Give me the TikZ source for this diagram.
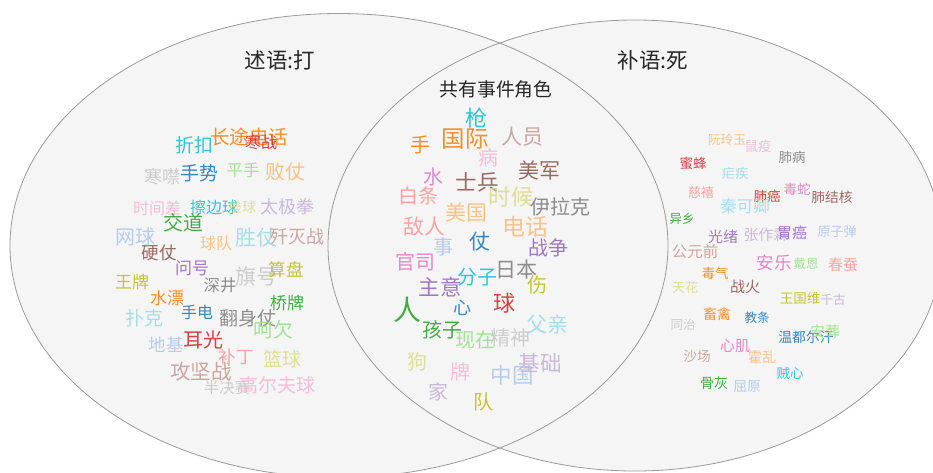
\documentclass[tikz,border=0pt]{standalone}
\usepackage{fontspec}
\setmainfont{Noto Sans CJK SC}
\definecolor{tb}{HTML}{1F77B4}
\definecolor{tlb}{HTML}{AEC7E8}
\definecolor{to}{HTML}{FF7F0E}
\definecolor{tlo}{HTML}{FFBB78}
\definecolor{tg}{HTML}{2CA02C}
\definecolor{tlg}{HTML}{98DF8A}
\definecolor{tr}{HTML}{D62728}
\definecolor{tlr}{HTML}{FF9896}
\definecolor{tp}{HTML}{9467BD}
\definecolor{tlp}{HTML}{C5B0D5}
\definecolor{tbr}{HTML}{8C564B}
\definecolor{tlbr}{HTML}{C49C94}
\definecolor{tpk}{HTML}{E377C2}
\definecolor{tlpk}{HTML}{F7B6D2}
\definecolor{tgr}{HTML}{7F7F7F}
\definecolor{tlgr}{HTML}{C7C7C7}
\definecolor{tol}{HTML}{BCBD22}
\definecolor{tlol}{HTML}{DBDB8D}
\definecolor{tc}{HTML}{17BECF}
\definecolor{tlc}{HTML}{9EDAE5}
\definecolor{setfill}{HTML}{F5F5F5}
\definecolor{setline}{HTML}{9A9A9A}
\newcounter{wcnt}
\newcommand\wrd[5]{\stepcounter{wcnt}\node[word, text=#4, font=\fontsize{#3pt}{#3pt}\selectfont] (w\arabic{wcnt}) at (#1,#2) {#5};}
\begin{document}
\begin{tikzpicture}[x=1pt,y=-1pt,
  word/.style={inner sep=0pt, text opacity=0.88},
  title/.style={inner sep=0pt, text=black!85, font=\fontsize{21.5pt}{21.5pt}\selectfont},
  subtitle/.style={inner sep=0pt, text=black!85, font=\fontsize{18.8pt}{18.8pt}\selectfont},
  setfillst/.style={fill=setfill, draw=none},
  setedge/.style={draw=setline, line width=0.8pt}]
\useasboundingbox (0,0) rectangle (933,472);
\begin{scope}
\clip (0,0) rectangle (933,472);
\fill[setfillst] (339,245.5) ellipse [x radius=329, y radius=232];
\fill[setfillst] (635,245.5) ellipse [x radius=307, y radius=225.5];
\draw[setedge] (339,245.5) ellipse [x radius=329, y radius=232];
\draw[setedge] (635,245.5) ellipse [x radius=307, y radius=225.5];
\end{scope}
\node[title] (tl) at (280,60) {述语:打};
\node[title] (tr) at (653,60) {补语:死};
\node[subtitle] (tm) at (496,89) {共有事件角色};
% left
\wrd{194}{145}{19}{tc}{折扣}
\wrd{249}{137}{19.5}{to}{长途电话}
\wrd{261}{142}{16}{tr}{寒战}
\wrd{162}{177}{18}{tlgr}{寒噤}
\wrd{199}{173}{19}{tb}{手势}
\wrd{243}{170}{16.5}{tlg}{平手}
\wrd{285}{172}{20}{tlo}{败仗}
\wrd{157}{208}{16}{tlpk}{时间差}
\wrd{214}{207}{16}{tc}{擦边球}
\wrd{242}{207}{14}{tlol}{垒球}
\wrd{287}{207}{18}{tlp}{太极拳}
\wrd{183}{223}{20}{tg}{交道}
\wrd{135}{237}{20}{tlb}{网球}
\wrd{216}{243}{16}{tlo}{球队}
\wrd{256}{238}{21}{tlc}{胜仗}
\wrd{297}{237}{18}{tlbr}{歼灭战}
\wrd{159}{253}{17.5}{tbr}{硬仗}
\wrd{192}{268}{17}{tp}{问号}
\wrd{132}{282}{17}{tol}{王牌}
\wrd{220}{285}{16.5}{tgr}{深井}
\wrd{256}{277}{21}{tlgr}{旗号}
\wrd{286}{270}{17.5}{tol}{算盘}
\wrd{167}{298}{17}{to}{水漂}
\wrd{287}{303}{17}{tg}{桥牌}
\wrd{144}{318}{19}{tlc}{扑克}
\wrd{197}{312}{16}{tb}{手电}
\wrd{248}{318}{19}{tgr}{翻身仗}
\wrd{273}{330}{20}{tlg}{呵欠}
\wrd{166}{345}{17.5}{tlb}{地基}
\wrd{203}{340}{20}{tr}{耳光}
\wrd{236}{357}{17.5}{tlr}{补丁}
\wrd{282}{359}{19}{tlol}{篮球}
\wrd{201}{372}{20.5}{tlbr}{攻坚战}
\wrd{227}{388}{15.5}{tlgr}{半决赛}
\wrd{277}{385}{19}{tlpk}{高尔夫球}
% middle
\wrd{476}{118}{22}{tc}{枪}
\wrd{420}{145}{20}{to}{手}
\wrd{465}{139}{23.5}{to}{国际}
\wrd{522}{137}{21}{tlbr}{人员}
\wrd{488}{158}{20}{tlpk}{病}
\wrd{539}{170}{21}{tbr}{美军}
\wrd{433}{177}{20}{tpk}{水}
\wrd{477}{182}{21.5}{tbr}{士兵}
\wrd{511}{197}{22.5}{tlol}{时候}
\wrd{418}{196}{20}{tlr}{白条}
\wrd{560}{207}{20}{tgr}{伊拉克}
\wrd{466}{212}{21}{tlo}{美国}
\wrd{525}{227}{23}{tlo}{电话}
\wrd{424}{227}{21}{tlr}{敌人}
\wrd{443}{247}{20}{tlb}{事}
\wrd{480}{242}{21}{tb}{仗}
\wrd{548}{248}{20}{tp}{战争}
\wrd{415}{262}{20}{tpk}{官司}
\wrd{477}{277}{20}{tc}{分子}
\wrd{516}{270}{21}{tgr}{日本}
\wrd{537}{285}{20}{tol}{伤}
\wrd{440}{287}{21.5}{tp}{主意}
\wrd{407}{310}{28}{tg}{人}
\wrd{462}{308}{18}{tb}{心}
\wrd{504}{303}{22}{tr}{球}
\wrd{547}{325}{21}{tlc}{父亲}
\wrd{442}{330}{20}{tg}{孩子}
\wrd{475}{340}{20}{tlg}{现在}
\wrd{510}{338}{20}{tlgr}{精神}
\wrd{417}{362}{20}{tlol}{狗}
\wrd{460}{372}{20}{tlpk}{牌}
\wrd{512}{375}{21.5}{tlb}{中国}
\wrd{540}{363}{21.5}{tlp}{基础}
\wrd{438}{392}{20}{tlp}{家}
\wrd{483}{402}{20}{tol}{队}
% right
\wrd{727}{140}{12.6}{tlo}{阮玲玉}
\wrd{758}{146}{13.5}{tlpk}{鼠疫}
\wrd{792}{157}{13.5}{tgr}{肺病}
\wrd{693}{163}{13.5}{tr}{蜜蜂}
\wrd{735}{173}{13.5}{tlc}{疟疾}
\wrd{701}{193}{13}{tlr}{慈禧}
\wrd{767}{196}{13.5}{tr}{肺癌}
\wrd{797}{189}{13.5}{tpk}{毒蛇}
\wrd{832}{197}{13.7}{tbr}{肺结核}
\wrd{745}{206}{16.5}{tlc}{秦可卿}
\wrd{682}{219}{12.5}{tg}{异乡}
\wrd{723}{237}{15}{tp}{光绪}
\wrd{766}{235}{15}{tlp}{张作霖}
\wrd{792}{233}{15}{tp}{胃癌}
\wrd{837}{232}{13}{tlb}{原子弹}
\wrd{695}{252}{15.5}{tlbr}{公元前}
\wrd{774}{263}{17.5}{tpk}{安乐}
\wrd{806}{264}{12.5}{tlg}{戴恩}
\wrd{843}{265}{15}{tlr}{春蚕}
\wrd{715}{273}{13.5}{to}{毒气}
\wrd{685}{288}{13}{tlol}{天花}
\wrd{745}{287}{15}{tbr}{战火}
\wrd{800}{298}{13.5}{tol}{王国维}
\wrd{833}{300}{12.5}{tlp}{千古}
\wrd{717}{314}{14}{to}{畜禽}
\wrd{757}{318}{12.5}{tb}{教条}
\wrd{683}{325}{12.5}{tlgr}{同治}
\wrd{806}{337}{13.8}{tb}{温都尔汗}
\wrd{825}{332}{15}{tlg}{安葬}
\wrd{735}{346}{15}{tpk}{心肌}
\wrd{697}{356}{13.7}{tlbr}{沙场}
\wrd{762}{357}{14}{tlo}{霍乱}
\wrd{790}{373}{13.5}{tc}{贼心}
\wrd{714}{383}{14}{tg}{骨灰}
\wrd{747}{387}{13.7}{tlb}{屈原}
\end{tikzpicture}
\end{document}
